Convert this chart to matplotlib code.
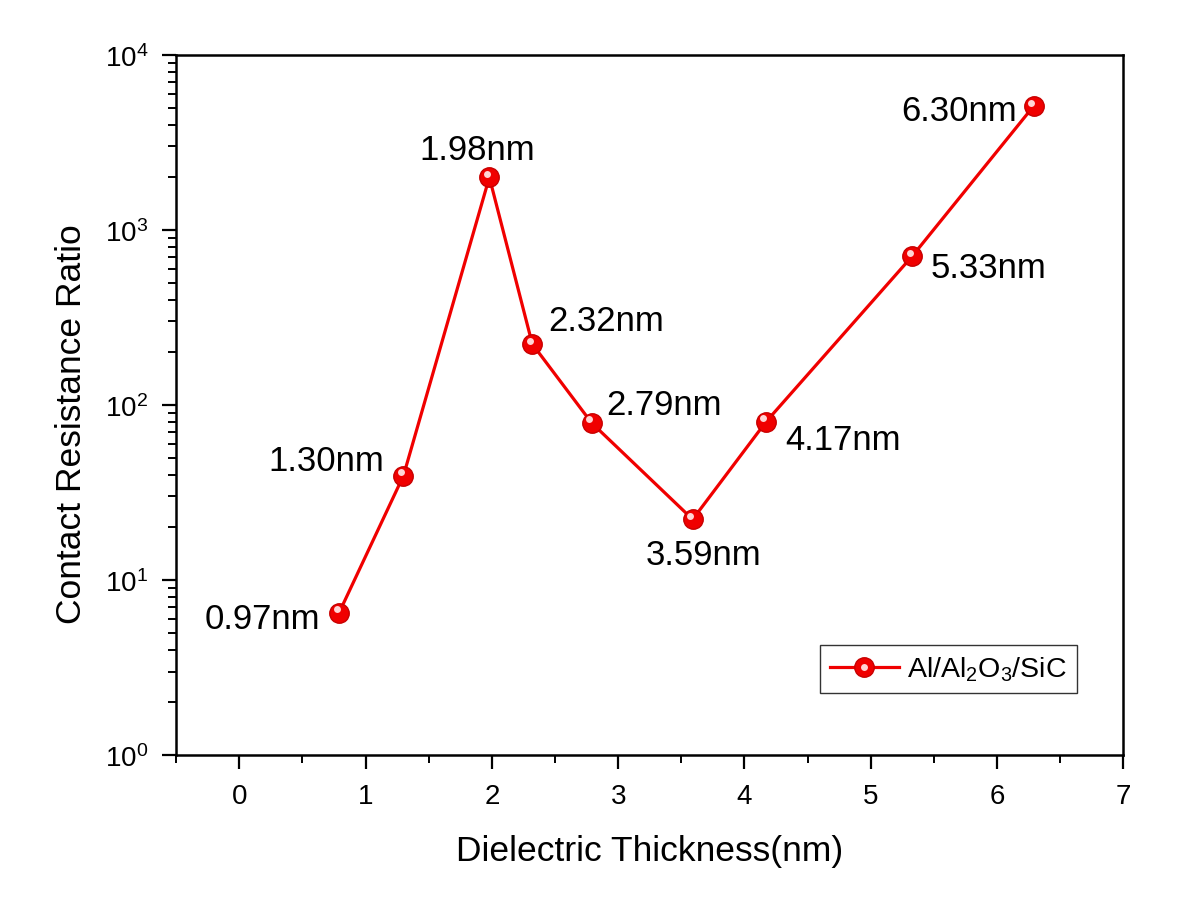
import matplotlib
matplotlib.use("Agg")
import matplotlib.pyplot as plt
import matplotlib.transforms as mtransforms
from matplotlib.ticker import LogLocator, MultipleLocator, FixedLocator, LogFormatterMathtext, NullFormatter
from matplotlib.legend_handler import HandlerTuple

plt.rcParams['font.family'] = ['Liberation Sans', 'DejaVu Sans']
plt.rcParams['mathtext.fontset'] = 'custom'
plt.rcParams['mathtext.rm'] = 'Liberation Sans'
plt.rcParams['mathtext.it'] = 'Liberation Sans:italic'
plt.rcParams['mathtext.bf'] = 'Liberation Sans:bold'

# Data
thickness = [0.79, 1.30, 1.98, 2.32, 2.79, 3.59, 4.17, 5.33, 6.29]
ratio = [6.5, 39.5, 2000, 223, 79, 22.2, 80, 710, 5100]
point_labels = ["0.97nm", "1.30nm", "1.98nm", "2.32nm", "2.79nm",
                "3.59nm", "4.17nm", "5.33nm", "6.30nm"]
series_name = "Al/Al$_2$O$_3$/SiC"
x_label = "Dielectric Thickness(nm)"
y_label = "Contact Resistance Ratio"
x_ticks = [0, 1, 2, 3, 4, 5, 6, 7]

# label placement (offset in pixels, alignment)
label_offsets = [(-19, -6, 'right'), (-19, 15, 'right'), (-12, 28, 'center'),
                 (16, 24, 'left'), (15, 18, 'left'), (11, -35, 'center'),
                 (19, -18, 'left'), (18, -11, 'left'), (-17, -4, 'right')]

fig = plt.figure(figsize=(11.81, 9.04), dpi=100)
ax = fig.add_axes([0.1492, 0.1637, 0.8019, 0.7744])

red = '#f00000'
line, = ax.plot(thickness, ratio, '-', color=red, lw=2.3, marker='o', ms=14,
                markerfacecolor='#f00000', markeredgecolor='#c80000', mew=1.0,
                zorder=3)
hl_trans = mtransforms.offset_copy(ax.transData, fig=fig, x=-2.5, y=3.5, units='dots')
hl, = ax.plot(thickness, ratio, 'o', ms=5, color='#ffd6d6', markeredgewidth=0,
              transform=hl_trans, zorder=4)

for x, y, lab, (dx, dy, ha) in zip(thickness, ratio, point_labels, label_offsets):
    ax.annotate(lab, (x, y), xytext=(dx, dy), textcoords='offset pixels',
                ha=ha, va='center', fontsize=25, color='black')

ax.set_yscale('log')
ax.set_xlim(-0.5, 7)
ax.set_ylim(1, 1e4)
ax.xaxis.set_major_locator(FixedLocator(x_ticks))
ax.xaxis.set_minor_locator(MultipleLocator(0.5))
ax.yaxis.set_major_locator(LogLocator(base=10, numticks=10))
ax.yaxis.set_minor_locator(LogLocator(base=10, subs=range(2, 10), numticks=20))
ax.yaxis.set_major_formatter(LogFormatterMathtext())
ax.yaxis.set_minor_formatter(NullFormatter())

ax.tick_params(which='major', direction='out', length=10, width=1.6, labelsize=20, pad=10)
ax.tick_params(which='minor', direction='out', length=6, width=1.4)
ax.tick_params(top=False, right=False, which='both')
for s in ax.spines.values():
    s.set_linewidth(1.8)

ax.set_xlabel(x_label, fontsize=25.5, labelpad=18)
ax.set_ylabel(y_label, fontsize=25.5)
ax.yaxis.set_label_coords(-0.093, 0.474)

leg = ax.legend([(line, hl)], [series_name], handler_map={tuple: HandlerTuple(ndivide=1)},
                loc='lower right', bbox_to_anchor=(0.951, 0.0886), borderaxespad=0,
                fontsize=20.5, frameon=True, fancybox=False, edgecolor='black',
                handlelength=2.4, borderpad=0.35, handletextpad=0.3)
leg.get_frame().set_linewidth(1.0)

fig.savefig('out.png', dpi=100)
